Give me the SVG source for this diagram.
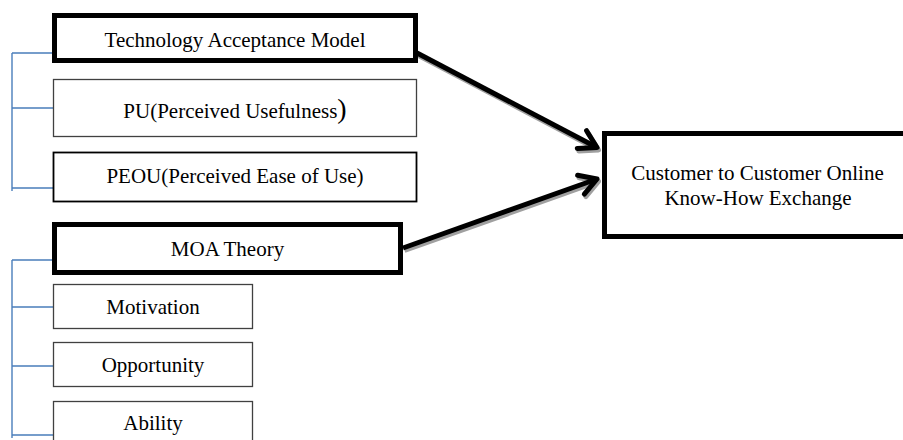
<svg xmlns="http://www.w3.org/2000/svg" width="903" height="440" viewBox="0 0 903 440">
  <style>
    text { font-family: "Liberation Serif", "Times New Roman", serif; font-size: 21px; fill: #000; text-anchor: middle; }
    .thick { fill: #fff; stroke: #000; stroke-width: 5; }
    .thin { fill: #fff; stroke: #404040; stroke-width: 1.3; }
    .med { fill: #fff; stroke: #000; stroke-width: 1.8; }
    .bracket { fill: none; stroke: #4a7ebb; stroke-width: 1.4; }
    .arrow { fill: none; stroke: #000; stroke-width: 5; }
    .shadow { fill: none; stroke: #a0a0a0; stroke-width: 5; }
  </style>
  <defs>
    <marker id="head" markerUnits="userSpaceOnUse" orient="auto" overflow="visible" markerWidth="30" markerHeight="30" refX="0" refY="0">
      <path d="M-17,-10 L0,0 L-17,10" fill="none" stroke="#000" stroke-width="5" stroke-linecap="round" stroke-linejoin="round"/>
    </marker>
    <marker id="headShadow" markerUnits="userSpaceOnUse" orient="auto" overflow="visible" markerWidth="30" markerHeight="30" refX="0" refY="0">
      <path d="M-17,-10 L0,0 L-17,10" fill="none" stroke="#a0a0a0" stroke-width="5" stroke-linecap="round" stroke-linejoin="round"/>
    </marker>
  </defs>
  <rect width="903" height="440" fill="#fff"/>

  <g id="brackets">
    <path class="bracket" d="M12,53 V191 M12,53 H54 M12,108 H54 M12,188 H54"/>
    <path class="bracket" d="M12,260 V438 M12,260 H54 M12,307 H54 M12,366 H54 M12,435 H54"/>
  </g>

  <g id="connectors">
    <g transform="translate(1.5,2.5)">
      <line class="shadow" x1="417" y1="53" x2="597" y2="147.5" marker-end="url(#headShadow)"/>
      <line class="shadow" x1="403" y1="248" x2="597" y2="179" marker-end="url(#headShadow)"/>
    </g>
    <line class="arrow" x1="417" y1="53" x2="597" y2="147.5" marker-end="url(#head)"/>
    <line class="arrow" x1="403" y1="248" x2="597" y2="179" marker-end="url(#head)"/>
  </g>

  <g id="tam">
    <rect class="thick" x="54.5" y="15.5" width="361" height="45"/>
    <text x="235" y="47">Technology Acceptance Model</text>
  </g>
  <g id="pu">
    <rect class="thin" x="53.5" y="79.5" width="363" height="57"/>
    <text x="235" y="118">PU(Perceived Usefulness<tspan font-size="28">)</tspan></text>
  </g>
  <g id="peou">
    <rect class="med" x="53.5" y="152.5" width="363" height="49"/>
    <text x="235" y="183">PEOU(Perceived Ease of Use)</text>
  </g>

  <g id="moa">
    <rect class="thick" x="54.5" y="224.5" width="346" height="48"/>
    <text x="227.5" y="256">MOA Theory</text>
  </g>
  <g id="motivation">
    <rect class="thin" x="53.5" y="284.5" width="199" height="44"/>
    <text x="153" y="314">Motivation</text>
  </g>
  <g id="opportunity">
    <rect class="thin" x="53.5" y="342.5" width="199" height="44"/>
    <text x="153" y="372">Opportunity</text>
  </g>
  <g id="ability">
    <rect class="thin" x="53.5" y="401.5" width="199" height="50"/>
    <text x="153" y="430">Ability</text>
  </g>

  <g id="c2c">
    <rect class="thick" x="604.5" y="133.5" width="310" height="103"/>
    <text x="757.5" y="180">Customer to Customer Online</text>
    <text x="758" y="205">Know-How Exchange</text>
  </g>
</svg>
